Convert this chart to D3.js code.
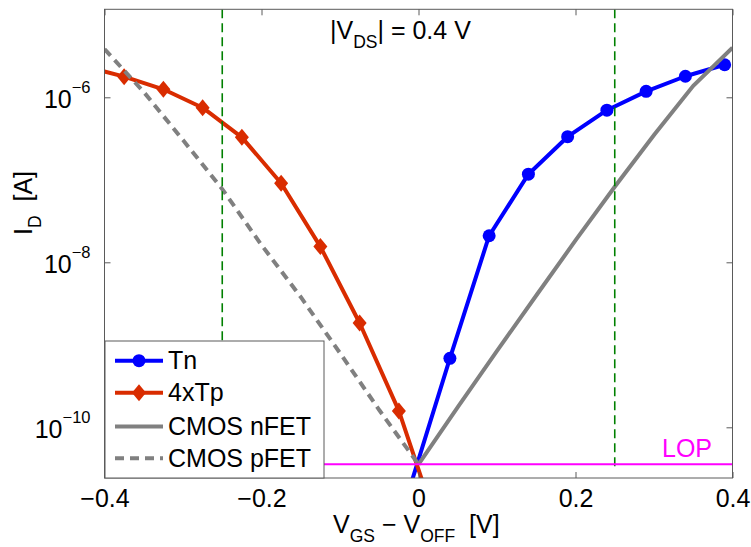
<!DOCTYPE html>
<html>
<head>
<meta charset="utf-8">
<script src="https://cdn.jsdelivr.net/npm/d3@7"></script>
<style>
  html, body { margin: 0; padding: 0; background: #fff; }
  svg { display: block; font-family: "Liberation Sans", Arial, Helvetica, sans-serif; }
  svg text { white-space: pre; }
</style>
</head>
<body>
<svg id="chart" width="751" height="547"></svg>
<script>
// Drain current vs. gate overdrive at |VDS| = 0.4 V
const tnVgs = [-0.01, 0.04, 0.09, 0.14, 0.19, 0.24, 0.29, 0.34, 0.39];
const tnId  = [2.0e-11, 6.86e-10, 2.10e-8, 1.17e-7, 3.33e-7, 6.98e-7, 1.18e-6, 1.80e-6, 2.48e-6];

const tpVgs = [-0.425, -0.375, -0.325, -0.275, -0.225, -0.175, -0.125, -0.075, -0.025, 0.025];
const tpId  = [2.38e-6, 1.78e-6, 1.25e-6, 7.48e-7, 3.27e-7, 9.08e-8, 1.55e-8, 1.84e-9, 1.58e-10, 6.0e-12];

const nfetVgs = [0, 0.05, 0.10, 0.15, 0.20, 0.25, 0.30, 0.35, 0.40];
const nfetId  = [3.56e-11, 1.76e-10, 8.43e-10, 3.96e-9, 1.84e-8, 8.24e-8, 3.50e-7, 1.38e-6, 3.99e-6];

const pfetVgs = [-0.40, -0.35, -0.30, -0.25, -0.20, -0.15, -0.10, -0.05, 0];
const pfetId  = [3.85e-6, 1.16e-6, 3.03e-7, 7.72e-8, 1.62e-8, 3.80e-9, 7.94e-10, 1.62e-10, 3.56e-11];

const lopLevel = 3.56e-11;
const windowEdges = [-0.25, 0.25];

const xTicks = [-0.4, -0.2, 0, 0.2, 0.4];
const xTickLabels = ["\u22120.4", "\u22120.2", "0", "0.2", "0.4"];
const yTicks = [1e-10, 1e-8, 1e-6];
const yTickExponents = ["\u221210", "\u22128", "\u22126"];

const legendNames = ["Tn", "4xTp", "CMOS nFET", "CMOS pFET"];

const svg = d3.select("#chart");
const L = 104.5, R = 732.5, T = 9.3, B = 478;
const FS = 25, SUB = 17.5;

const x = d3.scaleLinear().domain([-0.4, 0.4]).range([L, R]);
const y = d3.scaleLog().domain([2.43e-11, 1.166e-5]).range([B, T]);

const BLUE = "#0000ff", RED = "#d92c00", GRAY = "#808080", GREEN = "#008000", MAGENTA = "#ff00ff";
const FRAME = "#5a5a5a";

svg.append("defs").append("clipPath").attr("id", "plotClip")
  .append("rect").attr("x", L).attr("y", T).attr("width", R - L).attr("height", B - T);

const plot = svg.append("g").attr("clip-path", "url(#plotClip)");

const line = d3.line().x(d => x(d[0])).y(d => y(d[1]));
const zip = (a, b) => a.map((v, i) => [v, b[i]]);

const tn = zip(tnVgs, tnId);
const tp = zip(tpVgs, tpId);
const nf = zip(nfetVgs, nfetId);
const pf = zip(pfetVgs, pfetId);

// Tn
plot.append("path").attr("d", line(tn)).attr("fill", "none")
  .attr("stroke", BLUE).attr("stroke-width", 4).attr("stroke-linejoin", "round");
plot.selectAll("circle.tn").data(tn).enter().append("circle")
  .attr("cx", d => x(d[0])).attr("cy", d => y(d[1])).attr("r", 6.5).attr("fill", BLUE);

// 4xTp
const diamond = (cx, cy, w, h) => `M${cx},${cy - h}L${cx + w},${cy}L${cx},${cy + h}L${cx - w},${cy}Z`;
plot.append("path").attr("d", line(tp)).attr("fill", "none")
  .attr("stroke", RED).attr("stroke-width", 4).attr("stroke-linejoin", "round");
plot.selectAll("path.tp").data(tp).enter().append("path")
  .attr("d", d => diamond(x(d[0]), y(d[1]), 7, 8.5)).attr("fill", RED);

// CMOS references
plot.append("path").attr("d", line(nf)).attr("fill", "none")
  .attr("stroke", GRAY).attr("stroke-width", 4);
plot.append("path").attr("d", line(pf)).attr("fill", "none")
  .attr("stroke", GRAY).attr("stroke-width", 4).attr("stroke-dasharray", "9,6");

// operating window edges
plot.selectAll("line.edge").data(windowEdges).enter().append("line")
  .attr("x1", d => x(d)).attr("x2", d => x(d))
  .attr("y1", T).attr("y2", y(lopLevel) + 5)
  .attr("stroke", GREEN).attr("stroke-width", 1.6).attr("stroke-dasharray", "9,5");

// LOP level
plot.append("line").attr("x1", L).attr("x2", R)
  .attr("y1", y(lopLevel)).attr("y2", y(lopLevel))
  .attr("stroke", MAGENTA).attr("stroke-width", 2);
svg.append("text").attr("x", 687).attr("y", 456.5).attr("text-anchor", "middle")
  .attr("fill", MAGENTA).attr("font-size", FS).text("LOP");

// frame
svg.append("rect").attr("x", L).attr("y", T).attr("width", R - L).attr("height", B - T)
  .attr("fill", "none").attr("stroke", FRAME).attr("stroke-width", 1);

// axes
const styleAxis = g => {
  g.select(".domain").remove();
  g.selectAll(".tick line").attr("stroke", FRAME);
};
const xb = svg.append("g").attr("transform", `translate(0,${B})`)
  .call(d3.axisBottom(x).tickValues(xTicks).tickSizeInner(-6).tickSizeOuter(0).tickPadding(14)
    .tickFormat((d, i) => xTickLabels[i]))
  .call(styleAxis);
xb.selectAll(".tick text").attr("font-size", FS).attr("fill", "#000")
  .attr("font-family", "Liberation Sans, Arial, sans-serif").attr("dy", 0).attr("y", 29);

svg.append("g").attr("transform", `translate(0,${T})`)
  .call(d3.axisTop(x).tickValues(xTicks).tickSizeInner(-6).tickSizeOuter(0).tickFormat(""))
  .call(styleAxis);

const yl = svg.append("g").attr("transform", `translate(${L},0)`)
  .call(d3.axisLeft(y).tickValues(yTicks).tickSizeInner(-6).tickSizeOuter(0).tickFormat(""))
  .call(styleAxis);
yl.selectAll(".tick").each(function(d, i) {
  const t = d3.select(this).append("text").attr("x", -14).attr("y", 10)
    .attr("text-anchor", "end").attr("fill", "#000").attr("font-size", FS)
    .attr("font-family", "Liberation Sans, Arial, sans-serif");
  t.append("tspan").text("10");
  t.append("tspan").attr("font-size", 16.5).attr("dy", -15).text(yTickExponents[i]);
});

svg.append("g").attr("transform", `translate(${R},0)`)
  .call(d3.axisRight(y).tickValues(yTicks).tickSizeInner(-6).tickSizeOuter(0).tickFormat(""))
  .call(styleAxis);

// title
const title = svg.append("text").attr("x", 330).attr("y", 39).attr("font-size", FS).attr("fill", "#000");
title.append("tspan").text("|V");
title.append("tspan").attr("font-size", SUB).attr("dy", 9).text("DS");
title.append("tspan").attr("dy", -9).text("| = 0.4 V");

// x label
const xl = svg.append("text").attr("x", 333).attr("y", 533).attr("font-size", FS).attr("fill", "#000");
xl.append("tspan").text("V");
xl.append("tspan").attr("font-size", SUB).attr("dy", 9).text("GS");
xl.append("tspan").attr("dy", -9).text(" \u2212 V");
xl.append("tspan").attr("font-size", SUB).attr("dy", 9).text("OFF");
xl.append("tspan").attr("dy", -9).text("  [V]");

// y label
const ylab = svg.append("text").attr("transform", "translate(32,203) rotate(-90)")
  .attr("text-anchor", "middle").attr("font-size", FS).attr("fill", "#000");
ylab.append("tspan").text("I");
ylab.append("tspan").attr("font-size", SUB).attr("dy", 9).text("D");
ylab.append("tspan").attr("dy", -9).text("  [A]");

// legend
const lg = svg.append("g");
lg.append("rect").attr("x", L + 0.5).attr("y", 341).attr("width", 324 - L - 0.5).attr("height", B - 341)
  .attr("fill", "#fff").attr("stroke", FRAME).attr("stroke-width", 1);
const rowY = [360.7, 392.7, 426.5, 458.3];
legendNames.forEach((name, i) => {
  const ry = rowY[i];
  const ln = lg.append("line").attr("x1", 115).attr("x2", 163).attr("y1", ry).attr("y2", ry)
    .attr("stroke-width", 4);
  if (i === 0) {
    ln.attr("stroke", BLUE);
    lg.append("circle").attr("cx", 139).attr("cy", ry).attr("r", 6.5).attr("fill", BLUE);
  } else if (i === 1) {
    ln.attr("stroke", RED);
    lg.append("path").attr("d", diamond(139, ry, 7, 8.5)).attr("fill", RED);
  } else if (i === 2) {
    ln.attr("stroke", GRAY);
  } else {
    ln.attr("stroke", GRAY).attr("stroke-dasharray", "9,6");
  }
  lg.append("text").attr("x", 168).attr("y", ry + 8.5).attr("font-size", FS).attr("fill", "#000").text(name);
});
</script>
</body>
</html>
